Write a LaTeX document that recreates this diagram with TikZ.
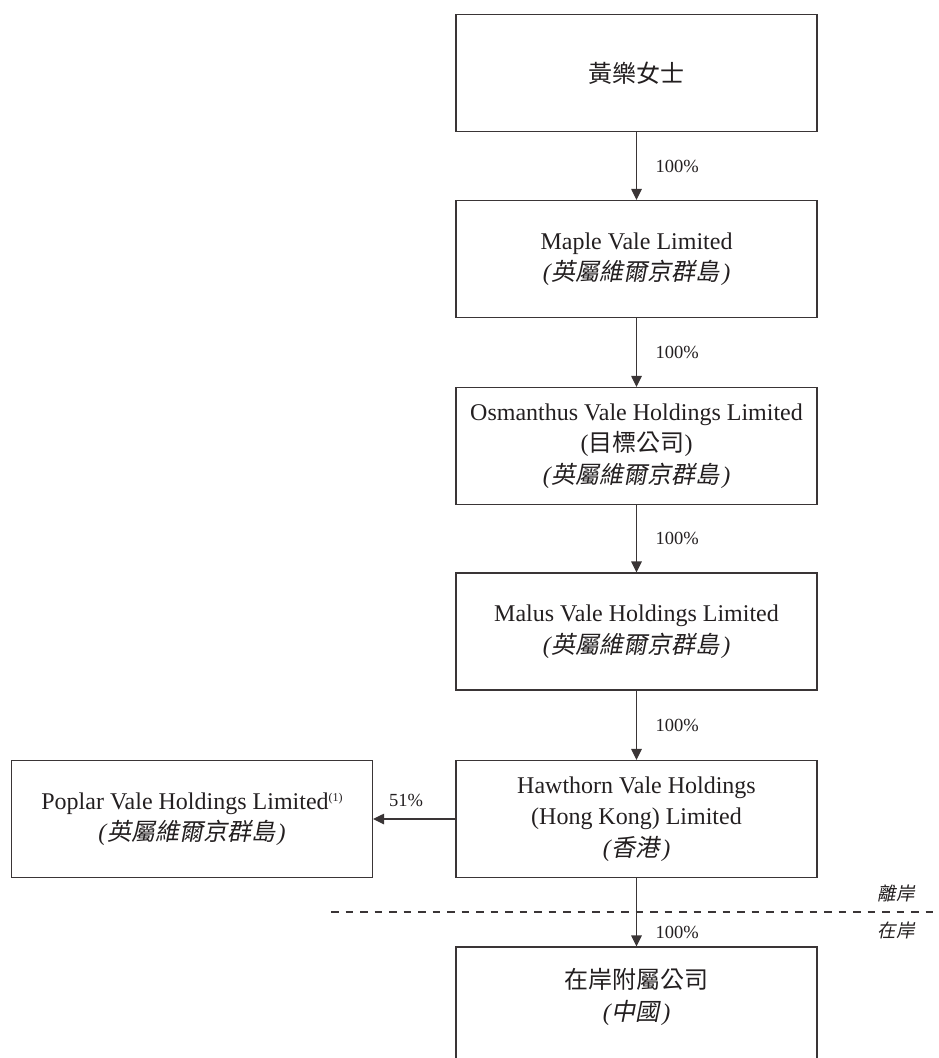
\documentclass[tikz,border=0pt]{standalone}
\usepackage{fontspec}
\setmainfont{Liberation Serif}
\newfontfamily\cjkfont{Noto Sans CJK TC}
\newfontfamily\cjkslfont[FakeSlant=0.2]{Noto Sans CJK TC}
\usetikzlibrary{arrows.meta}
\definecolor{ink}{HTML}{231F20}
\definecolor{linec}{HTML}{3A3536}
\newcommand{\zhup}[1]{{\cjkfont #1}}
\newcommand{\zhit}[1]{{\cjkslfont #1}}
\newcommand{\itpar}[1]{{\itshape(}\kern1pt\zhit{#1}\kern2.5pt{\itshape)}}
\newcommand{\bvi}{\itpar{英屬維爾京群島}}
\begin{document}
\begin{tikzpicture}[x=1pt,y=-1pt,
  box/.style={draw=linec, line width=1.1pt, minimum width=361pt, minimum height=117pt,
    inner sep=0pt, align=center, text=ink, font=\fontsize{24}{31.5}\selectfont},
  txt/.style={align=center, text=ink, inner sep=0pt, font=\fontsize{24}{31.5}\selectfont},
  pct/.style={text=ink, inner sep=0pt, font=\fontsize{18.5}{20}\selectfont},
  arr/.style={draw=linec, line width=1.1pt, -{Triangle[length=11pt,width=10.5pt]}},
  divider/.style={draw=linec, line width=1.1pt, dash pattern=on 7.5pt off 7pt}]
\useasboundingbox (0,0) rectangle (938,1058);
\clip (0,0) rectangle (938,1058);

\node[box] (b1) at (636.5,73) {\zhup{黃樂女士}};
\node[box] (b2) at (636.5,259) {Maple Vale Limited\\\bvi};
\node[box] (b3) at (636.5,446) {Osmanthus Vale Holdings Limited\\(\zhup{目標公司})\\\bvi};
\node[box] (b4) at (636.5,631.5) {Malus Vale Holdings Limited\\\bvi};
\node[box] (b5) at (636.5,819) {Hawthorn Vale Holdings\\(Hong Kong) Limited\\\itpar{香港}};
\node[box] (pv) at (192,819) {Poplar Vale Holdings Limited\raisebox{8pt}{\fontsize{12}{12}\selectfont(1)}\\\bvi};
\node[box, minimum height=140pt] (b6) at (636.5,1017) {};
\node[txt] (b6t) at (636.5,997) {\zhup{在岸附屬公司}\\\itpar{中國}};

\coordinate (dl) at (331,912);
\coordinate (dr) at (940,912);
\draw[divider] (dl) -- (dr);
\node[pct] (off) at (896,893) {\zhit{離岸}};
\node[pct] (on) at (896,930) {\zhit{在岸}};

\draw[arr] (b1.south) -- node[pct, right=18.5pt] {100\%} (b2.north);
\draw[arr] (b2.south) -- node[pct, right=18.5pt] {100\%} (b3.north);
\draw[arr] (b3.south) -- node[pct, right=18.5pt] {100\%} (b4.north);
\draw[arr] (b4.south) -- node[pct, right=18.5pt] {100\%} (b5.north);
\draw[arr] (b5.south) -- node[pct, right=18.5pt, pos=0.8] {100\%} (b6.north);
\draw[arr] (b5.west) -- node[pct, above=12pt, pos=0.6] {51\%} (pv.east);
\end{tikzpicture}
\end{document}
